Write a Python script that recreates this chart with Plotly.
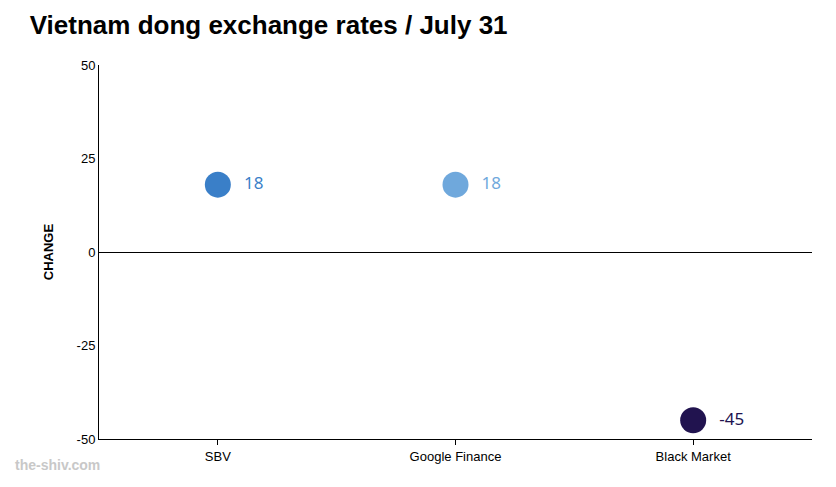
import plotly.graph_objects as go

categories = ["SBV", "Google Finance", "Black Market"]
values = [18, 18, -45]
colors = ["#3a7fc8", "#6fa8dc", "#21134f"]
labels = ["18", "18", "-45"]
ytickvals = [-50, -25, 0, 25, 50]
yticktext = ["-50", "-25", "0", "25", "50"]

fig = go.Figure()
fig.add_trace(go.Scatter(
    x=categories, y=values, mode="markers+text",
    marker=dict(size=26, color=colors),
    text=["  " + l for l in labels], textposition="middle right",
    textfont=dict(size=17, color=colors, family="Noto Sans"),
    cliponaxis=False, hoverinfo="skip"))
fig.update_layout(
    width=836, height=487, plot_bgcolor="white", paper_bgcolor="white",
    margin=dict(l=91, r=32, t=57, b=56), showlegend=False,
    title=dict(text="<b>Vietnam dong exchange rates / July 31</b>", x=0.026, xanchor="left",
               y=0.965, yanchor="middle", font=dict(family="Liberation Sans", size=26, color="black")),
    xaxis=dict(type="category", range=[-0.5, 2.5], showline=True, linecolor="black",
               ticks="outside", ticklen=5, tickcolor="black", showgrid=False,
               tickfont=dict(family="Liberation Sans", size=13, color="black")),
    yaxis=dict(range=[-50, 50], tickvals=ytickvals, ticktext=yticktext, showline=True, linecolor="black",
               showgrid=False, zeroline=True, zerolinecolor="black", zerolinewidth=1,
               ticks="", tickfont=dict(family="Liberation Sans", size=13, color="black"),
               title=dict(text="<b>CHANGE</b>", font=dict(family="Liberation Sans", size=13, color="black"), standoff=20)),
    annotations=[dict(text="<b>the-shiv.com</b>", xref="paper", yref="paper", x=-0.12, y=-0.07,
                      xanchor="left", yanchor="middle", showarrow=False,
                      font=dict(family="Liberation Sans", size=14, color="#c8c8c8"))])
fig.write_html("out.html")
